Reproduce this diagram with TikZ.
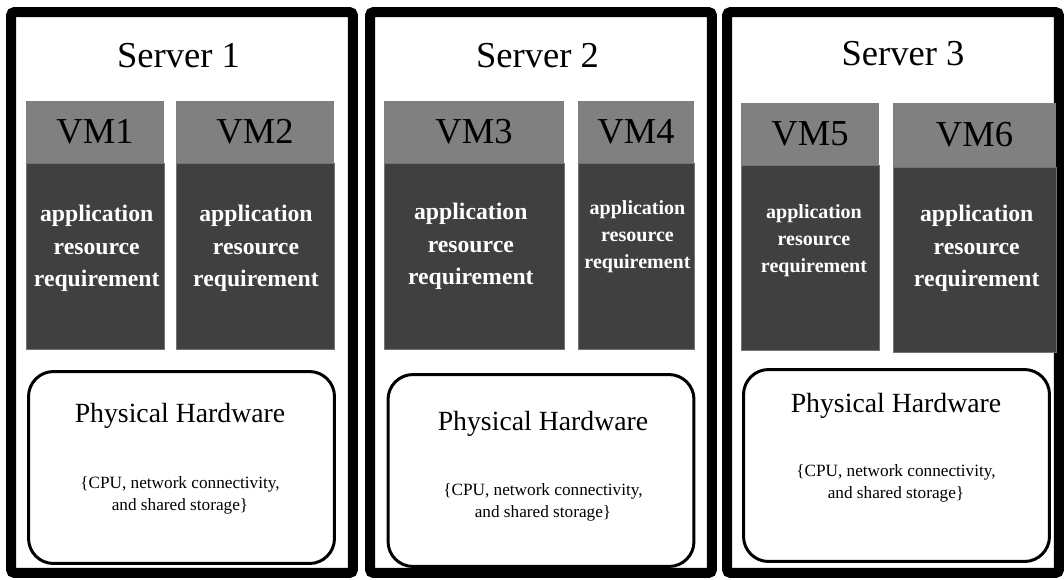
\documentclass[tikz,border=0pt]{standalone}
\usepackage{fontspec}
\setmainfont{Liberation Serif}
\usetikzlibrary{positioning}

\begin{document}
\begin{tikzpicture}[
    x=0.02cm, y=-0.02cm,
    server/.style={rectangle, draw, line width=0.2cm, rounded corners=2pt, minimum height=11.22cm, inner sep=0pt},
    title/.style={font=\fontsize{20.8}{24}\selectfont},
    vmhead/.style={rectangle, fill=black!50, inner sep=0pt, outer sep=0pt, minimum height=1.24cm, font=\fontsize{20.8}{24}\selectfont},
    vmbody/.style={rectangle, fill=black!75, draw=black!55, line width=0.3pt, inner sep=0pt, outer sep=0pt, minimum height=3.72cm},
    app/.style={text=white, align=center, font=\bfseries\fontsize{13.5}{18.5}\selectfont},
    appsmall/.style={app, font=\bfseries\fontsize{11.4}{15.3}\selectfont},
    hw/.style={rectangle, draw, line width=0.06cm, rounded corners=0.5cm, minimum width=6.12cm, minimum height=3.84cm},
    hwtitle/.style={font=\fontsize{15.8}{19}\selectfont},
    hwnote/.style={align=center, font=\fontsize{9.8}{12.6}\selectfont},
]
    \useasboundingbox (0,0) rectangle (1064,579);

    % Server 1
    \node[server, minimum width=6.84cm] (srv1) at (182,292.5) {};
    \node[title] (srv1-title) at (178.5,56) {Server 1};
    \node[vmhead, minimum width=2.76cm] (vm1) at (95,132) {VM1};
    \node[vmbody, minimum width=2.76cm, below=0pt of vm1] (vm1-body) {};
    \node[app] (app1) at (96.7,248.7) {application\\resource\\requirement};
    \node[vmhead, minimum width=3.16cm] (vm2) at (255,132) {VM2};
    \node[vmbody, minimum width=3.16cm, below=0pt of vm2] (vm2-body) {};
    \node[app] (app2) at (256,248.7) {application\\resource\\requirement};
    \node[hw] (hw1) at (181.5,467.5) {};
    \node[hwtitle] (hw1-title) at (180,416) {Physical Hardware};
    \node[hwnote] (hw1-note) at (180,495) {\{CPU, network connectivity,\\and shared storage\}};

    % Server 2
    \node[server, minimum width=6.84cm] (srv2) at (541,292.5) {};
    \node[title] (srv2-title) at (537.5,56) {Server 2};
    \node[vmhead, minimum width=3.6cm] (vm3) at (474,132) {VM3};
    \node[vmbody, minimum width=3.6cm, below=0pt of vm3] (vm3-body) {};
    \node[app] (app3) at (470.8,246.3) {application\\resource\\requirement};
    \node[vmhead, minimum width=2.32cm] (vm4) at (636,132) {VM4};
    \node[vmbody, minimum width=2.32cm, below=0pt of vm4] (vm4-body) {};
    \node[appsmall] (app4) at (637.5,236.6) {application\\resource\\requirement};
    \node[hw] (hw2) at (541,470.5) {};
    \node[hwtitle] (hw2-title) at (543,424) {Physical Hardware};
    \node[hwnote] (hw2-note) at (543,502) {\{CPU, network connectivity,\\and shared storage\}};

    % Server 3
    \node[server, minimum width=6.64cm] (srv3) at (893,292.5) {};
    \node[title] (srv3-title) at (903,54) {Server 3};
    \node[vmhead, minimum width=2.76cm] (vm5) at (810,134) {VM5};
    \node[vmbody, minimum width=2.76cm, minimum height=3.7cm, below=0pt of vm5] (vm5-body) {};
    \node[appsmall] (app5) at (814,240.8) {application\\resource\\requirement};
    \node[vmhead, minimum width=3.26cm, minimum height=1.28cm] (vm6) at (974.5,135) {VM6};
    \node[vmbody, minimum width=3.26cm, minimum height=3.7cm, below=0pt of vm6] (vm6-body) {};
    \node[app] (app6) at (976.7,248.3) {application\\resource\\requirement};
    \node[hw] (hw3) at (896.5,465.5) {};
    \node[hwtitle] (hw3-title) at (896,406) {Physical Hardware};
    \node[hwnote] (hw3-note) at (896,483) {\{CPU, network connectivity,\\and shared storage\}};

\end{tikzpicture}
\end{document}
